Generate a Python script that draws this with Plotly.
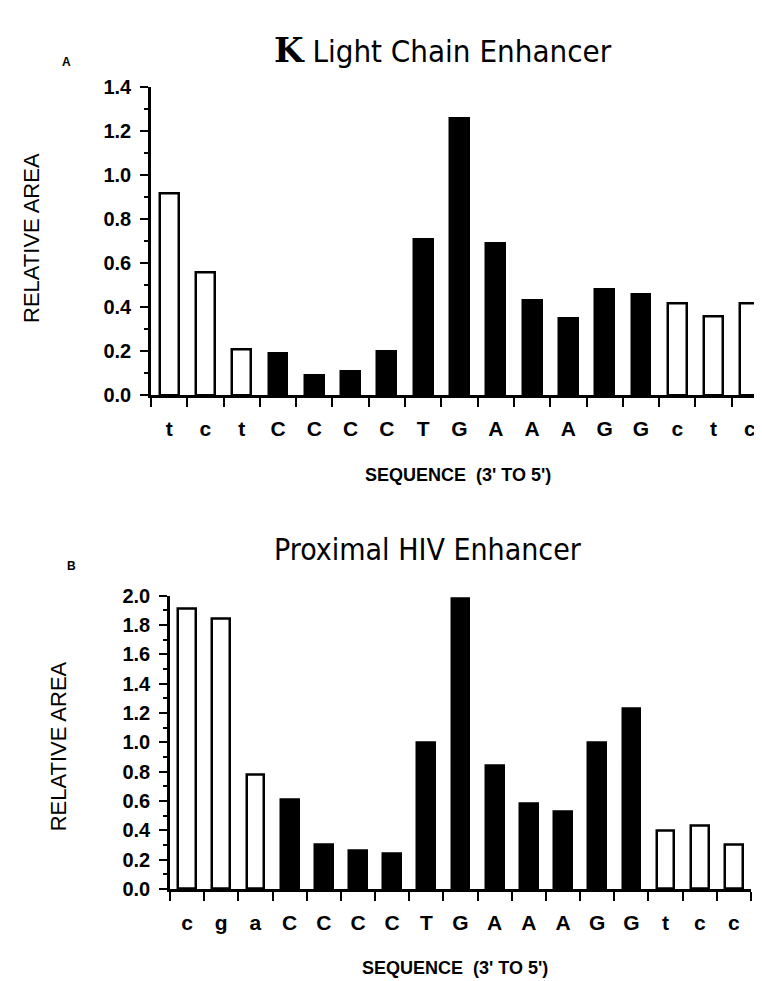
import plotly.graph_objects as go

# ---------------- data ----------------
kappa_labels = ["t", "c", "t", "C", "C", "C", "C", "T", "G", "A", "A", "A", "G", "G", "c", "t", "c"]
kappa_values = [0.92, 0.56, 0.21, 0.19, 0.09, 0.11, 0.20, 0.71, 1.26, 0.69, 0.43, 0.35, 0.48, 0.46, 0.42, 0.36, 0.42]

hiv_labels = ["c", "g", "a", "C", "C", "C", "C", "T", "G", "A", "A", "A", "G", "G", "t", "c", "c"]
hiv_values = [1.91, 1.84, 0.78, 0.61, 0.30, 0.26, 0.24, 1.00, 1.98, 0.84, 0.58, 0.53, 1.00, 1.23, 0.40, 0.43, 0.30]

title_a = '<span style="font-family:DejaVu Serif;font-size:34px"><b>K</b></span> Light Chain Enhancer'
title_b = "Proximal HIV Enhancer"
y_title = "RELATIVE AREA"
x_title = "SEQUENCE  (3' TO 5')"

W, H = 762, 981
XTICKFONT = dict(family="Liberation Sans, Arial, sans-serif", size=21, color="black", weight="bold")
YTICKFONT = dict(family="Liberation Sans, Arial, sans-serif", size=20, color="black", weight="bold")
TITLEFONT = "DejaVu Sans Condensed, sans-serif"


def fill_for(lbl):
    return "black" if lbl.isupper() else "white"


fig = go.Figure()


def add_panel(labels, values, xa, ya):
    xs = list(range(len(labels)))
    fig.add_trace(go.Bar(
        x=xs, y=values, width=0.52,
        marker=dict(color=[fill_for(l) for l in labels],
                    line=dict(color="black", width=2.5)),
        xaxis=xa, yaxis=ya, showlegend=False, hoverinfo="x+y",
    ))


def px(xp):
    return xp / W


def py(yp):
    return 1 - yp / H


add_panel(kappa_labels, kappa_values, "x", "y")
add_panel(hiv_labels, hiv_values, "x2", "y2")


def xaxis_cfg(labels, domain, anchor):
    n = len(labels)
    return dict(
        domain=domain, anchor=anchor, range=[-0.5, n - 0.5],
        tickmode="array", tickvals=list(range(n)), ticktext=labels,
        ticks="outside", ticklen=9, tickcolor="rgba(0,0,0,0)",
        ticklabelstandoff=4,
        tickfont=XTICKFONT,
        showline=True, linecolor="black", linewidth=2.5,
        showgrid=False, zeroline=False, fixedrange=True,
        minor=dict(tickmode="linear", tick0=-0.5, dtick=1, ticks="outside",
                   ticklen=9, tickwidth=2, tickcolor="black", showgrid=False),
    )


def yaxis_cfg(domain, anchor, ymax):
    return dict(
        domain=domain, anchor=anchor, range=[0, ymax],
        tickmode="linear", tick0=0, dtick=0.2, tickformat=".1f",
        ticks="outside", ticklen=8, tickwidth=2, tickcolor="black",
        ticklabelstandoff=5,
        tickfont=YTICKFONT,
        showline=True, linecolor="black", linewidth=2.5,
        showgrid=False, zeroline=False, fixedrange=True,
        minor=dict(tickmode="linear", tick0=0, dtick=0.1, ticks="outside",
                   ticklen=4, tickwidth=2, tickcolor="black", showgrid=False),
    )


fig.update_layout(
    width=W, height=H,
    margin=dict(l=0, r=0, t=0, b=0),
    paper_bgcolor="white", plot_bgcolor="white",
    bargap=0,
    xaxis=xaxis_cfg(kappa_labels, [px(143), px(760)], "y"),
    yaxis=yaxis_cfg([py(385), py(70)], "x", 1.4),
    xaxis2=xaxis_cfg(hiv_labels, [px(162), px(743)], "y2"),
    yaxis2=yaxis_cfg([py(890), py(590)], "x2", 2.0),
)

ann = []


def add_text(text, xc, yc, font, angle=0):
    ann.append(dict(text=text, x=px(xc), y=py(yc), xref="paper", yref="paper",
                    xanchor="center", yanchor="middle", showarrow=False,
                    textangle=angle, font=font))


# panel titles
add_text(title_a, 435, 32, dict(family=TITLEFONT, size=31, color="black"))
add_text(title_b, 420, 543, dict(family=TITLEFONT, size=30, color="black"))
# panel letters
add_text("<b>A</b>", 58, 44, dict(family="Liberation Sans, Arial", size=12, color="black"))
add_text("<b>B</b>", 63, 560, dict(family="Liberation Sans, Arial", size=12, color="black"))
# y titles
add_text(y_title, 24, 224, dict(family="Liberation Sans, Arial", size=22, color="black"), -90)
add_text(y_title, 50, 744, dict(family="Liberation Sans, Arial", size=22, color="black"), -90)
# x titles
add_text(x_title, 450, 466, dict(family="Liberation Sans, Arial", size=18, color="black", weight="bold"))
add_text(x_title, 447, 971, dict(family="Liberation Sans, Arial", size=18, color="black", weight="bold"))
fig.update_layout(annotations=ann)

fig.write_html("out.html")
